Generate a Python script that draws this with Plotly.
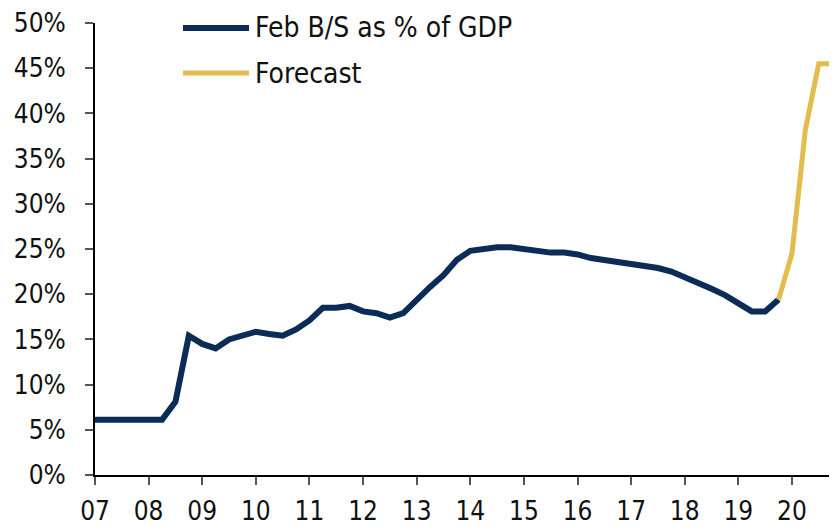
import plotly.graph_objects as go

# Quarterly data: Fed balance sheet as % of GDP
hist_x = [2007.0, 2007.25, 2007.5, 2007.75, 2008.0, 2008.25, 2008.5, 2008.75,
          2009.0, 2009.25, 2009.5, 2009.75, 2010.0, 2010.25, 2010.5, 2010.75,
          2011.0, 2011.25, 2011.5, 2011.75, 2012.0, 2012.25, 2012.5, 2012.75,
          2013.0, 2013.25, 2013.5, 2013.75, 2014.0, 2014.25, 2014.5, 2014.75,
          2015.0, 2015.25, 2015.5, 2015.75, 2016.0, 2016.25, 2016.5, 2016.75,
          2017.0, 2017.25, 2017.5, 2017.75, 2018.0, 2018.25, 2018.5, 2018.75,
          2019.0, 2019.25, 2019.5, 2019.75]
hist_y = [6.1, 6.1, 6.1, 6.1, 6.1, 6.1, 8.1, 15.4,
          14.5, 14.0, 15.0, 15.5, 15.85, 15.6, 15.4, 16.1,
          17.1, 18.5, 18.5, 18.7, 18.1, 17.9, 17.4, 17.9,
          19.4, 20.8, 22.1, 23.8, 24.8, 25.0, 25.2, 25.2,
          25.0, 24.8, 24.6, 24.6, 24.4, 24.0, 23.8, 23.6,
          23.4, 23.2, 22.9, 22.5, 21.9, 21.2, 20.6, 19.9,
          19.0, 18.1, 18.1, 19.4]

fc_x = [2019.75, 2020.0, 2020.25, 2020.5, 2020.75]
fc_y = [19.4, 24.5, 38.2, 45.5, 45.5]

year_ticks = list(range(2007, 2021))
year_labels = ["07", "08", "09", "10", "11", "12", "13", "14", "15", "16", "17", "18", "19", "20"]
y_ticks = list(range(0, 51, 5))
y_labels = [f"{v}%" for v in y_ticks]

series_names = ["Feb B/S as % of GDP", "Forecast"]
navy = "#0B2C56"
gold = "#E2BC4D"
FONT = "DejaVu Sans Condensed, Liberation Sans Narrow, sans-serif"

fig = go.Figure()
fig.add_trace(go.Scatter(x=hist_x, y=hist_y, mode="lines", name=series_names[0],
                         line=dict(color=navy, width=6), showlegend=False))
fig.add_trace(go.Scatter(x=fc_x, y=fc_y, mode="lines", name=series_names[1],
                         line=dict(color=gold, width=5), showlegend=False))

# custom legend (longer swatches than plotly's native legend)
legend_items = [(series_names[0], navy, 6), (series_names[1], gold, 5)]
for i, (name, col, w) in enumerate(legend_items):
    ypix = 28 + 45 * i
    yp = 1 - (ypix - 23) / 452
    fig.add_shape(type="line", xref="paper", yref="paper",
                  x0=(183 - 95) / 742, x1=(249 - 95) / 742, y0=yp, y1=yp,
                  line=dict(color=col, width=w))
    fig.add_annotation(xref="paper", yref="paper", x=(253 - 95) / 742, y=yp,
                       text=name, showarrow=False, xanchor="left", yanchor="middle",
                       font=dict(family=FONT, size=28, color="#111111"))

# page body has an 8px default margin, so the figure is sized to fit the window
fig.update_layout(
    width=829, height=519,
    margin=dict(l=87, r=0, t=15, b=52, autoexpand=False),
    paper_bgcolor="white", plot_bgcolor="white",
    font=dict(family=FONT, size=26, color="#111111"),
    showlegend=False,
)
fig.update_xaxes(range=[2007, 2020.84], tickvals=year_ticks, ticktext=year_labels,
                 showgrid=False, zeroline=False, showline=True, linecolor="black", linewidth=2,
                 ticks="outside", ticklen=8, tickwidth=1.5, tickcolor="#555555",
                 ticklabelstandoff=4, automargin=False)
fig.update_yaxes(range=[0, 50], tickvals=y_ticks, ticktext=y_labels,
                 showgrid=False, zeroline=False, showline=True, linecolor="black", linewidth=2,
                 ticks="outside", ticklen=8, tickwidth=1.5, tickcolor="#555555",
                 ticklabelstandoff=14, automargin=False)

fig.write_html("out.html")
